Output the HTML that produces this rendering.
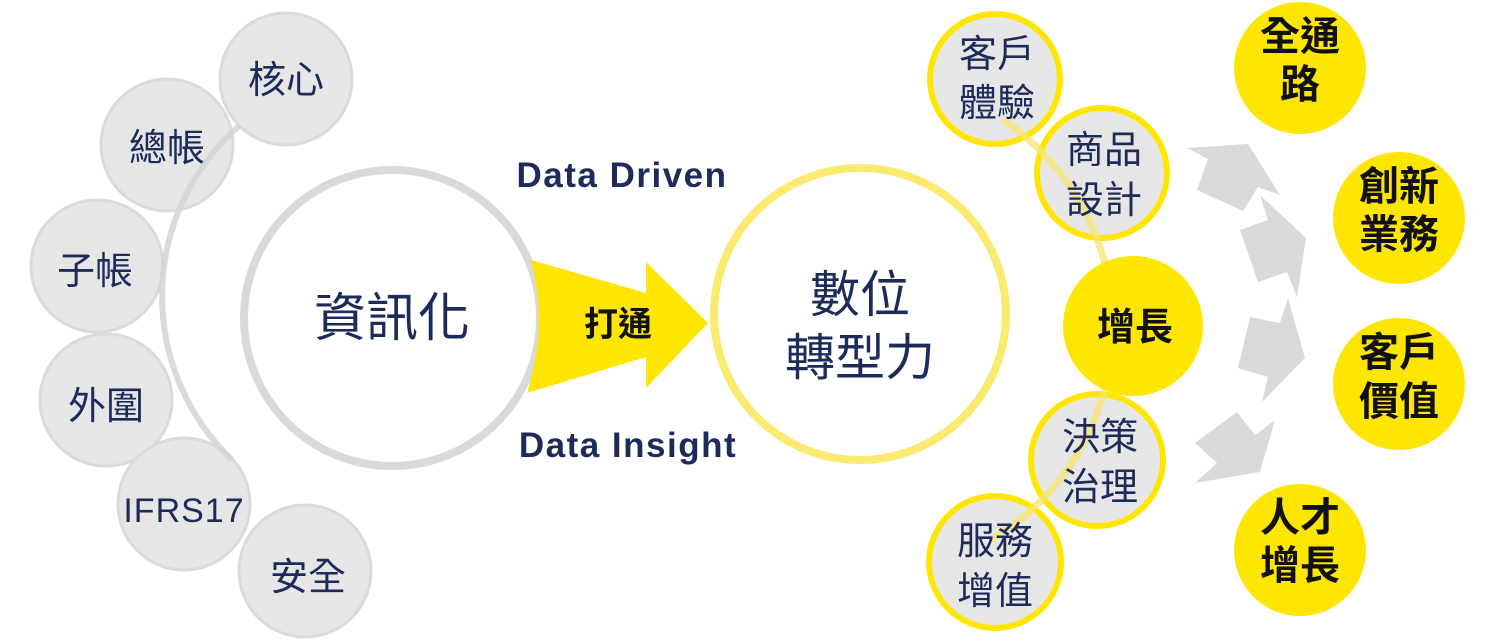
<!DOCTYPE html>
<html><head><meta charset="utf-8"><style>
html,body{margin:0;padding:0;background:#fff;}
svg{display:block;}
text{font-family:"Liberation Sans","Noto Sans CJK TC",sans-serif;}
.n{fill:#1c2b5a;}
.b{fill:#111;font-weight:bold;}
</style></head><body>
<svg width="1496" height="641" viewBox="0 0 1496 641" xmlns="http://www.w3.org/2000/svg">
<g fill="#e6e6e6" stroke="#dadada" stroke-width="3">
<circle cx="286" cy="79" r="66"/>
<circle cx="167" cy="145" r="66"/>
<circle cx="97" cy="266" r="66"/>
<circle cx="106" cy="400" r="66"/>
<circle cx="184" cy="504" r="66"/>
<circle cx="305" cy="571" r="66"/>
</g>
<path d="M240,125 A227,227 0 0 0 232,460" fill="none" stroke="#d4d4d4" stroke-width="6" opacity="0.85"/>
<g font-size="38" text-anchor="middle">
<text x="286" y="93" class="n">核心</text>
<text x="167" y="161" class="n">總帳</text>
<text x="95" y="284" class="n">子帳</text>
<text x="106" y="419" class="n">外圍</text>
<text x="184" y="522" class="n" font-size="34" letter-spacing="1">IFRS17</text>
<text x="308" y="590" class="n">安全</text>
</g>
<circle cx="392" cy="318" r="148" fill="#fff" stroke="#d9d9d9" stroke-width="8"/>
<text x="392" y="336" text-anchor="middle" font-size="52" class="n">資訊化</text>
<path d="M531,260 L646,293 L646,262 L708,323 L646,388 L646,357 L527,393 Q548,326 531,260 Z" fill="#ffe600"/>
<text x="618" y="336" text-anchor="middle" font-size="34" class="b">打通</text>
<text x="622" y="187" text-anchor="middle" font-size="35" font-weight="bold" class="n" letter-spacing="1.5">Data Driven</text>
<text x="628" y="457" text-anchor="middle" font-size="35" font-weight="bold" class="n" letter-spacing="1.5">Data Insight</text>
<circle cx="860" cy="314" r="146" fill="#fff" stroke="#faea70" stroke-width="8"/>
<text x="860" y="312" text-anchor="middle" font-size="50" class="n">數位</text>
<text x="860" y="375" text-anchor="middle" font-size="50" class="n">轉型力</text>
<g fill="#e6e6e6" stroke="#ffe600" stroke-width="6">
<circle cx="995" cy="79" r="65"/>
<circle cx="1102" cy="173" r="65"/>
<circle cx="1097" cy="460" r="66"/>
<circle cx="995" cy="562" r="66"/>
</g>
<path d="M1003,120 A248,248 0 0 1 990,540" fill="none" stroke="#f7e470" stroke-width="7" opacity="0.75"/>
<circle cx="1133" cy="326" r="70" fill="#ffe600"/>
<g text-anchor="middle" font-size="38">
<text x="997" y="67" class="n">客戶</text>
<text x="997" y="116" class="n">體驗</text>
<text x="1104" y="163" class="n">商品</text>
<text x="1104" y="213" class="n">設計</text>
<text x="1100" y="450" class="n">決策</text>
<text x="1100" y="500" class="n">治理</text>
<text x="995" y="554" class="n">服務</text>
<text x="995" y="604" class="n">增值</text>
<text x="1135" y="340" class="b">增長</text>
</g>
<g fill="#d9d9d9">
<path d="M1187,148 L1248,144 L1280,195 L1258,187 L1243,211 L1197,190 L1208,159 Z"/>
<path d="M1260,195 L1306,238 L1297,297 L1287,272 L1258,282 L1240,230 L1268,220 Z"/>
<path d="M1288,298 L1305,358 L1262,402 L1268,377 L1238,368 L1250,317 L1280,323 Z"/>
<path d="M1237,412 L1255,435 L1275,420 L1260,472 L1195,483 L1217,463 L1195,443 Z"/>
</g>
<g fill="#ffe600">
<circle cx="1300" cy="68" r="66"/>
<circle cx="1399" cy="218" r="66"/>
<circle cx="1399" cy="384" r="66"/>
<circle cx="1300" cy="550" r="66"/>
</g>
<g text-anchor="middle" font-size="40">
<text x="1300" y="50" class="b">全通</text>
<text x="1300" y="98" class="b">路</text>
<text x="1399" y="200" class="b">創新</text>
<text x="1399" y="248" class="b">業務</text>
<text x="1399" y="366" class="b">客戶</text>
<text x="1399" y="415" class="b">價值</text>
<text x="1300" y="531" class="b">人才</text>
<text x="1300" y="579" class="b">增長</text>
</g>
</svg>
</body></html>
